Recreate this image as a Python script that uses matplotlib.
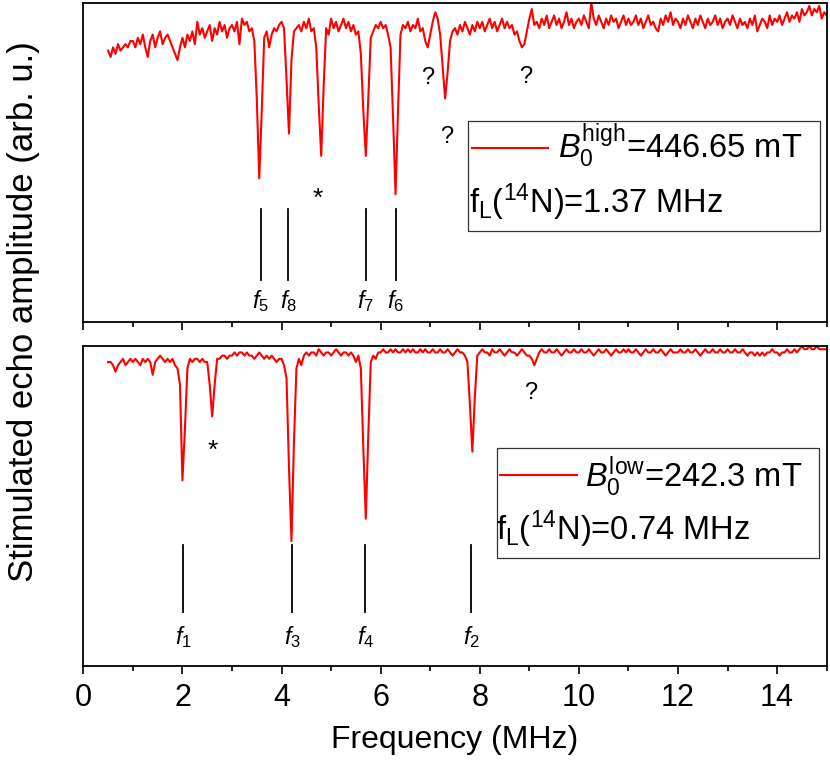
import numpy as np
import matplotlib
matplotlib.use("Agg")
import matplotlib.pyplot as plt
from matplotlib.ticker import MultipleLocator
from matplotlib.patches import Rectangle

plt.rcParams["font.family"] = ["Liberation Sans", "DejaVu Sans"]
plt.rcParams["mathtext.fontset"] = "custom"
plt.rcParams["mathtext.rm"] = "Liberation Sans"
plt.rcParams["mathtext.it"] = "Liberation Sans:italic"

# frequency grid of the spectra (MHz), 0.05 MHz step
freq = np.linspace(0.5, 15.0, 291)

# B0 high (446.65 mT) spectrum, normalised echo amplitude
amp_high = [
    0.85, 0.83, 0.86, 0.84, 0.87, 0.85, 0.86, 0.87, 0.86, 0.88,
    0.88, 0.86, 0.89, 0.87, 0.90, 0.86, 0.83, 0.88, 0.90, 0.86, 0.89, 0.91, 0.87, 0.89, 0.90, 0.88, 0.86, 0.84, 0.82, 0.86,
    0.89, 0.86, 0.90, 0.88, 0.91, 0.87, 0.94, 0.90, 0.92, 0.89, 0.91, 0.93, 0.88, 0.92, 0.90, 0.94, 0.91, 0.93, 0.89, 0.92,
    0.93, 0.91, 0.94, 0.87, 0.95, 0.93, 0.94, 0.91, 0.92, 0.88, 0.70, 0.45, 0.66, 0.89, 0.91, 0.86, 0.90, 0.92, 0.91, 0.93,
    0.94, 0.92, 0.76, 0.59, 0.82, 0.91, 0.92, 0.93, 0.91, 0.94, 0.92, 0.95, 0.91, 0.92, 0.86, 0.68, 0.52, 0.74, 0.92, 0.90,
    0.95, 0.92, 0.94, 0.91, 0.93, 0.95, 0.92, 0.94, 0.91, 0.93, 0.90, 0.91, 0.84, 0.66, 0.52, 0.70, 0.89, 0.91, 0.93, 0.92,
    0.94, 0.92, 0.93, 0.90, 0.86, 0.64, 0.40, 0.66, 0.90, 0.93, 0.92, 0.94, 0.91, 0.93, 0.92, 0.95, 0.91, 0.92, 0.88, 0.86,
    0.90, 0.94, 0.97, 0.95, 0.90, 0.80, 0.70, 0.78, 0.88, 0.91, 0.92, 0.90, 0.93, 0.91, 0.94, 0.92, 0.90, 0.93, 0.91, 0.94,
    0.92, 0.94, 0.91, 0.93, 0.95, 0.92, 0.94, 0.91, 0.93, 0.95, 0.92, 0.94, 0.92, 0.93, 0.90, 0.91, 0.88, 0.86, 0.87, 0.91,
    0.95, 0.98, 0.93, 0.94, 0.92, 0.95, 0.93, 0.96, 0.92, 0.94, 0.96, 0.93, 0.95, 0.92, 0.94, 0.97, 0.93, 0.95, 0.92, 0.94,
    0.95, 0.93, 0.96, 0.94, 0.92, 1.00, 0.95, 0.93, 0.96, 0.94, 0.92, 0.95, 0.93, 0.96, 0.94, 0.95, 0.92, 0.94, 0.96, 0.93,
    0.95, 0.93, 0.94, 0.96, 0.93, 0.95, 0.92, 0.94, 0.96, 0.93, 0.94, 0.92, 0.91, 0.95, 0.93, 0.96, 0.94, 0.97, 0.93, 0.95,
    0.94, 0.92, 0.95, 0.93, 0.96, 0.94, 0.92, 0.95, 0.93, 0.96, 0.94, 0.92, 0.95, 0.93, 0.94, 0.96, 0.93, 0.95, 0.92, 0.94,
    0.95, 0.93, 0.96, 0.94, 0.92, 0.95, 0.93, 0.94, 0.92, 0.95, 0.93, 0.96, 0.91, 0.93, 0.95, 0.94, 0.92, 0.96, 0.93, 0.95,
    0.94, 0.96, 0.93, 0.95, 0.97, 0.94, 0.96, 0.95, 0.97, 0.94, 0.98, 0.96, 0.97, 0.99, 0.96, 0.98, 0.97, 0.99, 0.95, 0.97,
    0.96,
]

# B0 low (242.3 mT) spectrum
amp_low = [
    0.95, 0.95, 0.94, 0.92, 0.94, 0.95, 0.96, 0.94, 0.95, 0.96,
    0.95, 0.96, 0.95, 0.94, 0.96, 0.95, 0.96, 0.95, 0.91, 0.95, 0.96, 0.97, 0.96, 0.95, 0.96, 0.95, 0.96, 0.94, 0.93, 0.88,
    0.58, 0.74, 0.93, 0.96, 0.95, 0.96, 0.96, 0.95, 0.96, 0.95, 0.95, 0.88, 0.78, 0.88, 0.96, 0.96, 0.97, 0.97, 0.96, 0.97,
    0.97, 0.98, 0.97, 0.98, 0.98, 0.97, 0.98, 0.97, 0.97, 0.96, 0.97, 0.98, 0.97, 0.96, 0.97, 0.96, 0.97, 0.96, 0.95, 0.96,
    0.96, 0.94, 0.90, 0.62, 0.39, 0.70, 0.93, 0.96, 0.94, 0.97, 0.98, 0.97, 0.98, 0.98, 0.97, 0.99, 0.98, 0.97, 0.98, 0.98,
    0.97, 0.98, 0.99, 0.98, 0.97, 0.98, 0.98, 0.97, 0.98, 0.97, 0.95, 0.97, 0.93, 0.68, 0.46, 0.72, 0.95, 0.97, 0.96, 0.98,
    0.98, 0.99, 0.98, 0.98, 0.99, 0.98, 0.99, 0.98, 0.98, 0.99, 0.98, 0.99, 0.98, 0.99, 0.98, 0.98, 0.99, 0.98, 0.99, 0.98,
    0.98, 0.99, 0.98, 0.98, 0.99, 0.98, 0.98, 0.99, 0.98, 0.97, 0.98, 0.99, 0.98, 0.98, 0.97, 0.95, 0.82, 0.67, 0.84, 0.97,
    0.98, 0.99, 0.98, 0.98, 0.97, 0.99, 0.98, 0.98, 0.99, 0.98, 0.97, 0.98, 0.99, 0.98, 0.98, 0.97, 0.98, 0.99, 0.98, 0.97,
    0.97, 0.96, 0.94, 0.96, 0.98, 0.99, 0.98, 0.98, 0.99, 0.98, 0.98, 0.99, 0.98, 0.97, 0.98, 0.99, 0.98, 0.98, 0.99, 0.98,
    0.98, 0.99, 0.98, 0.98, 0.99, 0.98, 0.97, 0.98, 0.99, 0.98, 0.98, 0.99, 0.98, 0.97, 0.98, 0.99, 0.98, 0.98, 0.99, 0.98,
    0.99, 0.98, 0.98, 0.99, 0.98, 0.97, 0.98, 0.99, 0.98, 0.98, 0.99, 0.98, 0.98, 0.99, 0.98, 0.97, 0.98, 0.99, 0.98, 0.98,
    0.98, 0.99, 0.98, 0.98, 0.99, 0.98, 0.98, 0.99, 0.98, 0.97, 0.98, 0.99, 0.98, 0.98, 0.99, 0.98, 0.98, 0.99, 0.98, 0.98,
    0.99, 0.98, 0.98, 0.99, 0.98, 0.98, 0.99, 0.98, 0.97, 0.98, 0.98, 0.97, 0.98, 0.97, 0.98, 0.97, 0.98, 0.98, 0.99, 0.98,
    0.98, 0.97, 0.98, 0.98, 0.99, 0.98, 0.98, 0.99, 0.98, 0.99, 1.00, 0.99, 0.99, 1.00, 0.99, 0.99, 1.00, 0.99, 0.99, 0.99,
    0.99,
]

# assigned transitions (stick positions, MHz)
sticks_high = [3.58, 4.14, 5.70, 6.30]
labels_high = ["$f_5$", "$f_8$", "$f_7$", "$f_6$"]
sticks_low = [2.02, 4.22, 5.69, 7.83]
labels_low = ["$f_1$", "$f_3$", "$f_4$", "$f_2$"]

# unassigned / artefact markers: (freq, amplitude, symbol)
marks_high = [(6.95, 0.764, "?"), (7.33, 0.579, "?"), (8.93, 0.767, "?"), (4.73, 0.385, "*")]
marks_low = [(9.03, 0.852, "?"), (2.61, 0.673, "*")]

field_high = r"$\mathit{B}_0^{\mathrm{high}}$=446.65 mT"
larmor_high = r"f$_\mathrm{L}$($^{14}$N)=1.37 MHz"
field_low = r"$\mathit{B}_0^{\mathrm{low}}$=242.3 mT"
larmor_low = r"f$_\mathrm{L}$($^{14}$N)=0.74 MHz"


def draw_panel(ax, amp, sticks, labels, stick_y, label_y, marks, box, texts):
    ax.plot(freq, amp, color="#ff0000", lw=1.5)
    for x, lab in zip(sticks, labels):
        ax.plot([x, x], stick_y, color="black", lw=1.3)
        ax.text(x, label_y, lab, ha="center", va="center", fontsize=17)
    for x, y, s in marks:
        ax.text(x, y, s, ha="center", va="center", fontsize=17 if s == "?" else 19)

    x0, x1, y0, y1 = box
    ax.add_patch(Rectangle((x0, y0), x1 - x0, y1 - y0, fill=False,
                           edgecolor="#333333", lw=0.9, zorder=3))
    (hx0, hx1, hy), (tx1, ty1), (tx2, ty2) = texts[0]
    ax.plot([hx0, hx1], [hy, hy], color="#ff0000", lw=1.5)
    ax.text(tx1, ty1, texts[1], ha="left", va="baseline", fontsize=23.5)
    ax.text(tx2, ty2, texts[2], ha="left", va="baseline", fontsize=23.5)

    ax.set_xlim(0, 15)
    ax.set_ylim(0, 1)
    ax.set_yticks([])
    ax.xaxis.set_major_locator(MultipleLocator(2))
    ax.xaxis.set_minor_locator(MultipleLocator(1))
    ax.tick_params(axis="x", which="major", direction="out", length=6, width=1.2,
                   labelsize=22, pad=6)
    ax.tick_params(axis="x", which="minor", direction="out", length=3.5, width=1.2)
    for sp in ax.spines.values():
        sp.set_linewidth(1.3)


def main():
    fig = plt.figure(figsize=(8.3, 7.61), dpi=100)
    ax1 = fig.add_axes([0.1004, 0.5769, 0.8956, 0.4196])
    ax2 = fig.add_axes([0.1004, 0.1248, 0.8956, 0.4205])

    draw_panel(ax1, amp_high, sticks_high, labels_high, [0.1315, 0.354], 0.066,
               marks_high, (7.76, 14.87, 0.285, 0.6295),
               [((7.84, 9.38, 0.544), (9.58, 0.5127), (7.79, 0.341)),
                field_high, larmor_high])
    ax1.tick_params(axis="x", labelbottom=False)

    draw_panel(ax2, amp_low, sticks_low, labels_low, [0.169, 0.378], 0.09,
               marks_low, (8.34, 14.85, 0.3366, 0.680),
               [((8.41, 9.96, 0.597), (10.12, 0.560), (8.32, 0.392)),
                field_low, larmor_low])
    ax2.set_xlabel("Frequency (MHz)", fontsize=23, labelpad=9)

    fig.text(0.028, 0.59, "Stimulated echo amplitude (arb. u.)", rotation=90,
             ha="center", va="center", fontsize=25)

    fig.savefig("out.png", dpi=100)


if __name__ == "__main__":
    main()
